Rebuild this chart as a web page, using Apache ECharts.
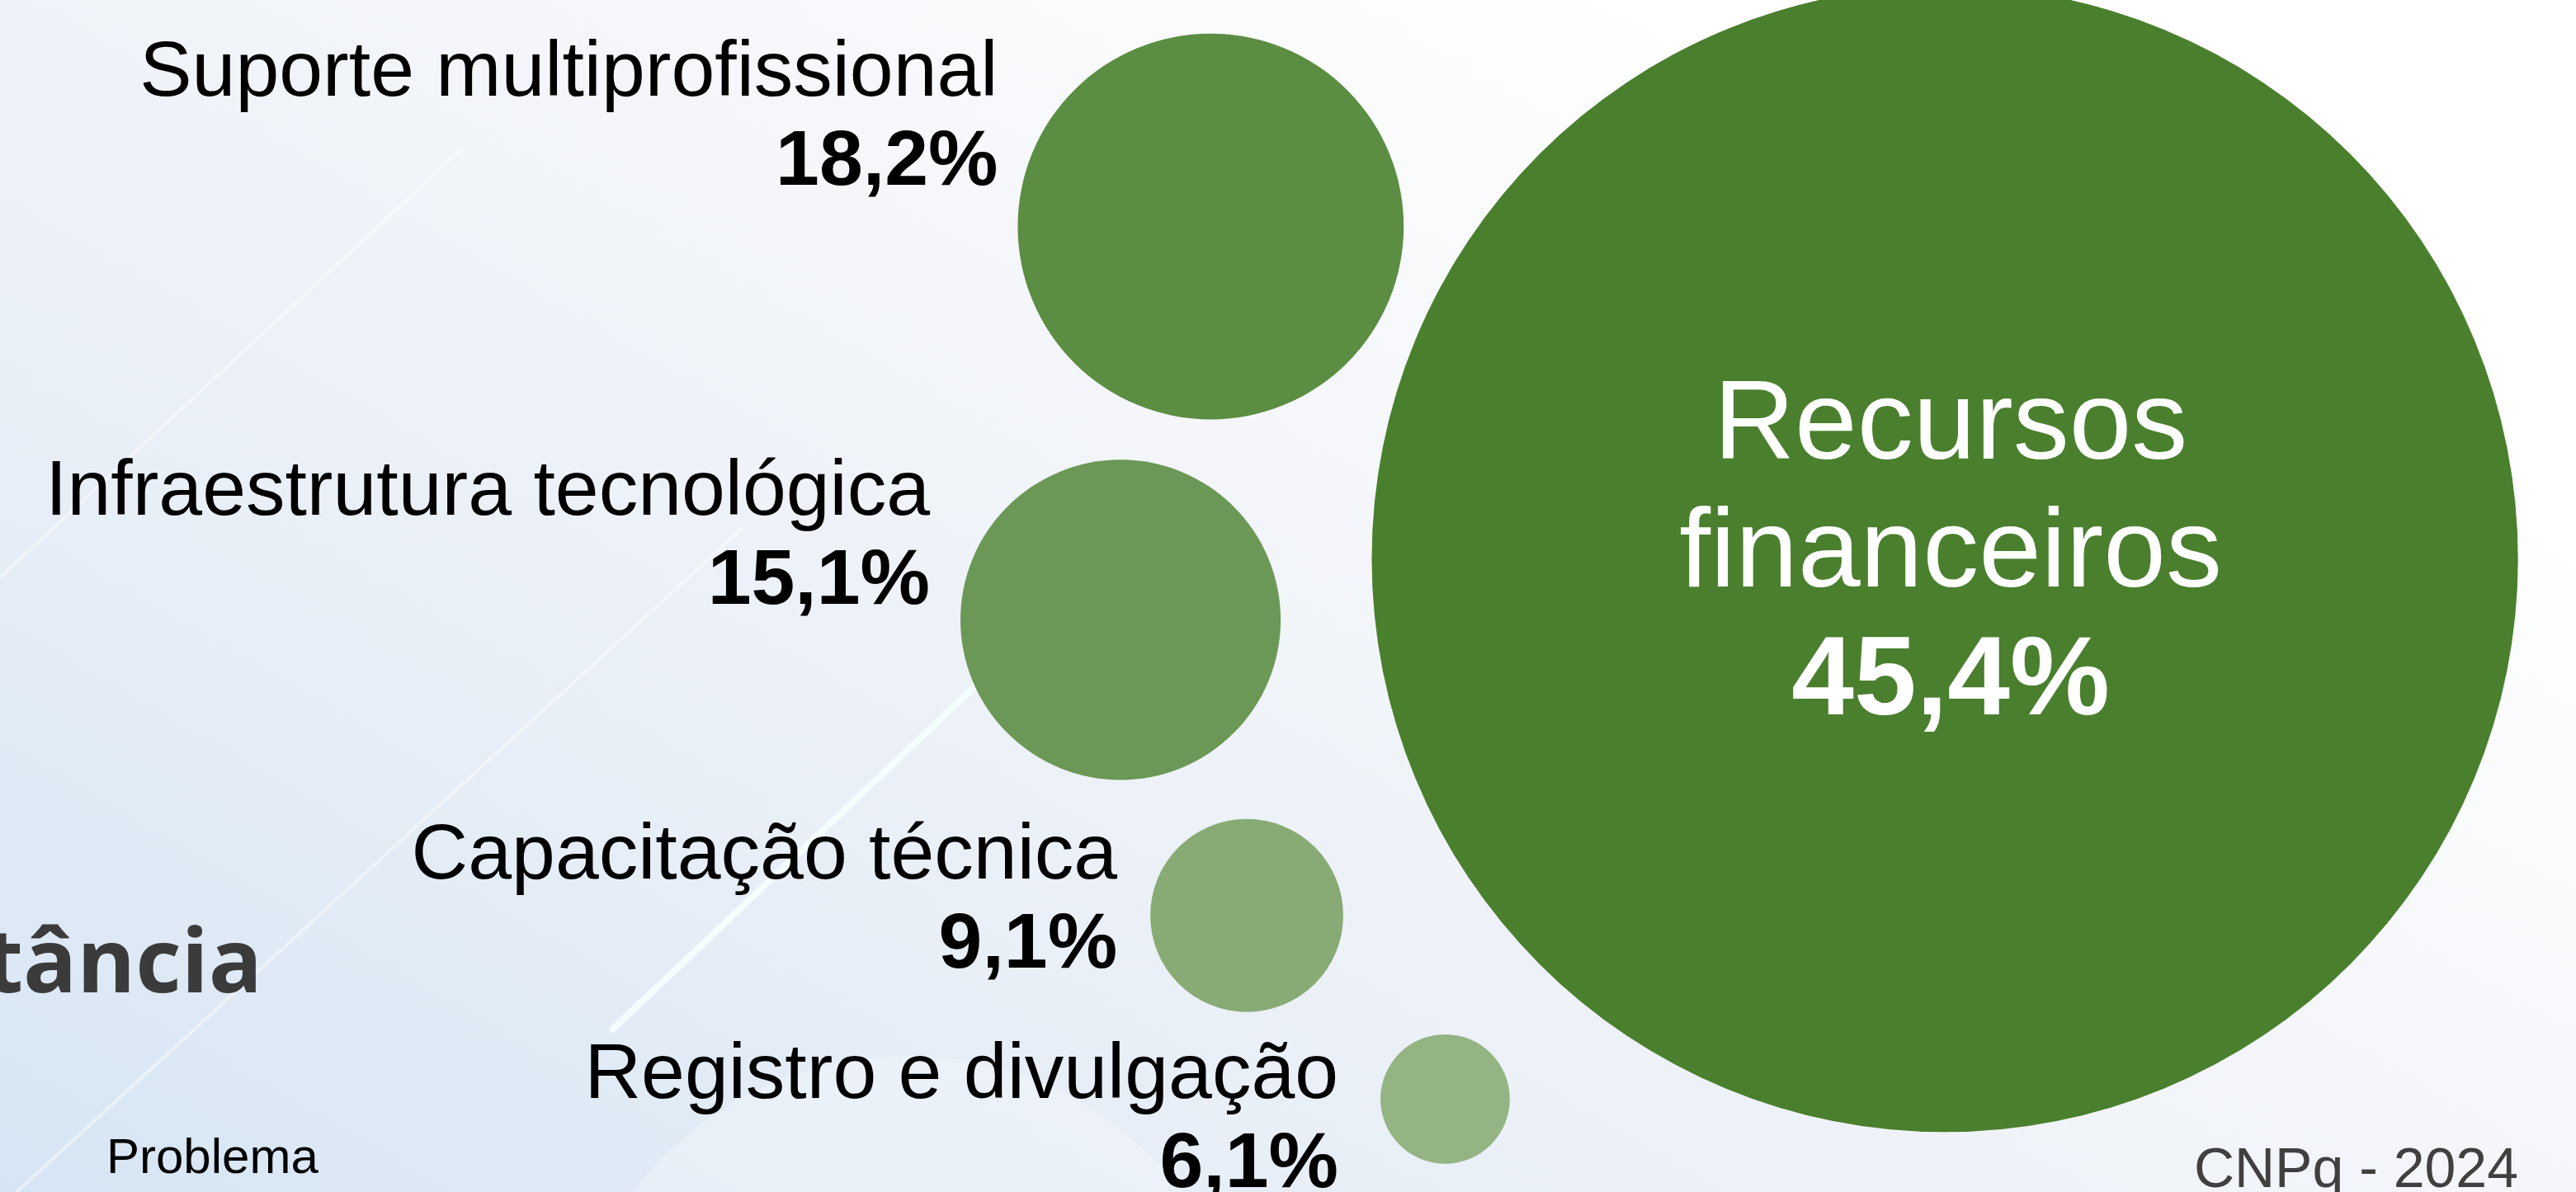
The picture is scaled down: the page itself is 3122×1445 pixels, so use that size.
<!DOCTYPE html>
<html>
<head>
<meta charset="utf-8">
<title>Recursos - bolhas</title>
<script src="https://cdn.jsdelivr.net/npm/echarts/dist/echarts.min.js"></script>
<style>
    html, body { margin: 0; padding: 0; }
    body {
        width: 3122px; height: 1445px; overflow: hidden;
        background: linear-gradient(30deg, #d6e5f4 0%, #e9eff7 30%, #f4f6fa 55%, #ffffff 80%);
    }
    #main { width: 3122px; height: 1445px; }
</style>
</head>
<body>
<div id="main"></div>
<script>
// dados
var categories = ['Recursos financeiros', 'Suporte multiprofissional', 'Infraestrutura tecnológica', 'Capacitação técnica', 'Registro e divulgação']
var values = [45.4, 18.2, 15.1, 9.1, 6.1]

// layout das bolhas (em % da area)
var posX = [75.5, 47.0, 43.5, 48.4, 56.1]
var posY = [46.9, 19.0, 52.0, 76.8, 92.2]
var colors = ['#4a7f2e', '#5b8d42', '#6b9856', '#88ab75', '#94b483']
// deslocamento dos rotulos (px, canto sup. esq. da bolha)
var labelOffsets = [null, [-24, -5], [-37, -14], [-40, -8], [-51, -3]]

var fmtPct = function (v) { return v.toFixed(1).replace('.', ',') + '%' }

var seriesData = values.map(function (v, i) {
    var item = {
        name: categories[i],
        value: [posX[i], posY[i], v],
        itemStyle: { color: colors[i], opacity: 1 }
    }
    if (i === 0) {
        // bolha principal, texto por dentro
        var parts = categories[i].split(' ')
        item.label = {
            show: true, position: 'inside', offset: [7, -4],
            formatter: '{n|' + parts[0] + '}\n{n|' + parts[1] + '}\n{v|' + fmtPct(v) + '}',
            rich: {
                n: { color: '#ffffff', fontSize: 136, lineHeight: 155, fontFamily: 'Liberation Sans', align: 'center' },
                v: { color: '#ffffff', fontSize: 136, lineHeight: 155, fontWeight: 'bold', fontFamily: 'Liberation Sans', align: 'center' }
            }
        }
    } else {
        item.label = {
            show: true, position: labelOffsets[i], align: 'right', verticalAlign: 'top',
            formatter: '{n|' + categories[i] + '}\n{v|' + fmtPct(v) + '}',
            rich: {
                n: { color: '#000000', fontSize: 95, lineHeight: 108, fontFamily: 'Liberation Sans', align: 'right' },
                v: { color: '#000000', fontSize: 95, lineHeight: 108, fontWeight: 'bold', fontFamily: 'Liberation Sans', align: 'right' }
            }
        }
    }
    return item
})

var myChart = echarts.init(document.getElementById('main'), null, { renderer: 'canvas' })

var option = {
    backgroundColor: 'transparent',
    animation: false,
    grid: { left: 0, right: 0, top: 0, bottom: 0 },
    xAxis: { type: 'value', min: 0, max: 100, show: false },
    yAxis: { type: 'value', min: 0, max: 100, inverse: true, show: false },
    graphic: {
        elements: [
            // riscos claros do fundo
            { type: 'line', silent: true, z: -10, shape: { x1: 0, y1: 700, x2: 560, y2: 180 }, style: { stroke: 'rgba(255,255,255,0.45)', lineWidth: 4 } },
            { type: 'line', silent: true, z: -10, shape: { x1: 20, y1: 1445, x2: 900, y2: 640 }, style: { stroke: 'rgba(255,255,255,0.45)', lineWidth: 4 } },
            { type: 'line', silent: true, z: -10, shape: { x1: 740, y1: 1250, x2: 1300, y2: 720 }, style: { stroke: 'rgba(245,255,255,0.9)', lineWidth: 8 } },
            { type: 'circle', silent: true, z: -11, shape: { cx: 1100, cy: 1700, r: 420 }, style: { fill: 'rgba(255,255,255,0.25)' } },
            {
                type: 'text', right: 3122 - 318, top: 1118,
                style: { text: 'tância', fill: '#3b3b3b', fontSize: 108, fontWeight: 'bold', fontFamily: 'Open Sans' }
            },
            {
                type: 'text', left: 129, top: 1375,
                style: { text: 'Problema', fill: '#000000', fontSize: 60, fontFamily: 'Liberation Sans' }
            },
            {
                type: 'text', right: 70, top: 1386,
                style: { text: 'CNPq - 2024', fill: '#404040', fontSize: 68, fontFamily: 'Liberation Sans' }
            }
        ]
    },
    series: [{
        type: 'scatter',
        clip: false,
        silent: true,
        data: seriesData,
        symbolSize: function (val, params) {
            // diametro proporcional ao valor; bolha principal destacada
            return params.dataIndex === 0 ? val[2] * 30.6 : val[2] * 25.7
        },
        emphasis: { disabled: true }
    }]
}

myChart.setOption(option, true)
</script>
</body>
</html>
